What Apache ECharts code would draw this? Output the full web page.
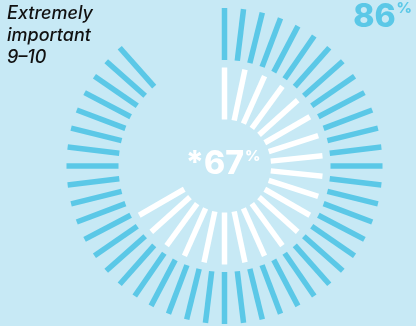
<!DOCTYPE html>
<html>
<head>
<meta charset="utf-8">
<script src="https://cdn.jsdelivr.net/npm/echarts@6/dist/echarts.min.js"></script>
<style>
html,body{margin:0;padding:0;background:#c7e9f5;}
#chart{width:416px;height:326px;}
</style>
</head>
<body>
<div id="chart"></div>
<script>
// Values
const labelLines = ['Extremely', 'important', '9\u201310'];
const outerPercent = 86;      // label shown top-right
const innerPercent = 67;      // label shown in the centre
const outerDashTotal = 52;    // dashes in the outer ring
const outerDashFilled = 47;   // coloured dashes in the outer ring
const innerDashTotal = 30;    // dashes in the inner ring
const innerDashFilled = 21;   // white dashes in the inner ring

const BG = '#c7e9f5';
const BLUE = '#5bc8e7';
const WHITE = '#ffffff';

function ring(total, filled, radius, color) {
  return {
    type: 'gauge',
    center: [224.5, 166],
    radius: radius,
    startAngle: 90,
    endAngle: -270,
    clockwise: true,
    min: 0,
    max: total,
    splitNumber: total,
    axisLine: {
      show: false,
      lineStyle: {
        width: 0,
        color: [[(filled - 0.5) / total, color], [1, 'rgba(0,0,0,0)']]
      }
    },
    splitLine: {
      show: true,
      distance: 0,
      length: 52,
      lineStyle: { color: 'auto', width: 5.5, cap: 'butt' }
    },
    axisTick: { show: false },
    axisLabel: { show: false },
    pointer: { show: false },
    anchor: { show: false },
    title: { show: false },
    detail: { show: false },
    progress: { show: false },
    data: [{ value: filled }]
  };
}

const chart = echarts.init(document.getElementById('chart'), null, { renderer: 'canvas' });
chart.setOption({
  backgroundColor: BG,
  animation: false,
  series: [
    ring(outerDashTotal, outerDashFilled, 158, BLUE),
    ring(innerDashTotal, innerDashFilled, 98.5, WHITE)
  ],
  graphic: [
    {
      type: 'text', left: 7, top: 3,
      style: {
        text: labelLines.join('\n'),
        font: 'italic 500 18px Inter, "Open Sans", sans-serif',
        lineHeight: 22,
        fill: '#111111'
      }
    },
    {
      type: 'text', right: 4, top: 1,
      style: {
        text: '{n|' + outerPercent + '}{p|%}',
        rich: {
          n: { font: '800 32px Inter, sans-serif', fill: BLUE, verticalAlign: 'bottom' },
          p: { font: '800 15px Inter, sans-serif', fill: BLUE, verticalAlign: 'top', padding: [0, 0, 15, 1] }
        }
      }
    },
    {
      type: 'text', x: 223, y: 164,
      style: {
        text: '{n|*' + innerPercent + '}{p|%}',
        align: 'center', verticalAlign: 'middle',
        rich: {
          n: { font: '800 32px Inter, sans-serif', fill: WHITE },
          p: { font: '800 15px Inter, sans-serif', fill: WHITE, padding: [0, 0, 15, 1] }
        }
      }
    }
  ]
});
</script>
</body>
</html>
